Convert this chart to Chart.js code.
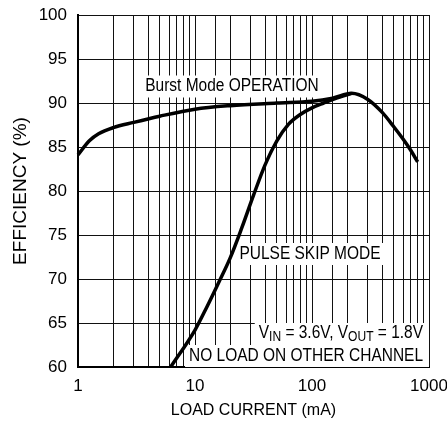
<!DOCTYPE html>
<html>
<head>
<meta charset="utf-8">
<script src="https://cdn.jsdelivr.net/npm/chart.js@4.4.0/dist/chart.umd.min.js"></script>
<style>
  html, body { margin: 0; padding: 0; background: #fff; }
  #wrap { width: 447px; height: 423px; }
</style>
</head>
<body>
<div id="wrap"><canvas id="effChart" width="447" height="423"></canvas></div>
<script>
const FONT = '"Liberation Sans", Arial, Helvetica, sans-serif';
const CONDENSE = 0.86; // the original uses a condensed face

// Burst Mode operation curve (load current mA, efficiency %)
const burstCurrent = [1, 1.25, 1.5, 2, 3, 5, 10, 20, 50, 100, 150, 218, 300, 400, 500, 600, 700, 800];
const burstEff     = [84.1, 85.7, 86.5, 87.2, 87.8, 88.5, 89.3, 89.7, 90.0, 90.2, 90.55, 91.1, 90.4, 88.9, 87.3, 85.9, 84.6, 83.3];

// Pulse skip mode curve
const pulseCurrent = [6.2, 10, 12.6, 15.8, 20, 25.1, 31.6, 39.8, 50.1, 63.1, 79.4, 100, 126, 158, 218];
const pulseEff     = [60, 64.2, 66.8, 69.5, 72.4, 75.8, 79.5, 83.0, 85.7, 87.6, 88.7, 89.45, 90.0, 90.5, 91.1];

const xTickLabels = [1, 10, 100, 1000];
const yTickValues = [60, 65, 70, 75, 80, 85, 90, 95, 100];

function toPoints(xs, ys) {
    return xs.map((x, i) => ({ x: x, y: ys[i] }));
}

// text boxes with white background, drawn over the grid
const labelPlugin = {
    id: 'curveLabels',
    beforeDatasetsDraw(chart) {
        const ctx = chart.ctx;
        const a = chart.chartArea;
        ctx.save();
        ctx.textBaseline = 'middle';

        function box(x1, y1, x2, y2) {
            ctx.fillStyle = '#fff';
            ctx.fillRect(x1, y1, x2 - x1, y2 - y1);
        }
        function width(t, size) {
            ctx.font = size + 'px ' + FONT;
            return ctx.measureText(t).width * CONDENSE;
        }
        function text(t, size, x, y) {
            ctx.save();
            ctx.font = size + 'px ' + FONT;
            ctx.fillStyle = '#000';
            ctx.textAlign = 'left';
            ctx.translate(x, y);
            ctx.scale(CONDENSE, 1);
            ctx.fillText(t, 0, 0);
            ctx.restore();
        }

        // Burst Mode OPERATION
        let t = 'Burst Mode OPERATION';
        let w = width(t, 18);
        let cx = a.left + 154, cy = a.top + 71.5;
        box(cx - w / 2 - 3, cy - 11, cx + w / 2 + 3, cy + 11);
        text(t, 18, cx - w / 2, cy);

        // PULSE SKIP MODE
        t = 'PULSE SKIP MODE';
        w = width(t, 18);
        cx = a.left + 232; cy = a.top + 239;
        box(cx - w / 2 - 3, cy - 11, cx + w / 2 + 3, cy + 11);
        text(t, 18, cx - w / 2, cy);

        // VIN = 3.6V, VOUT = 1.8V  (subscripts)
        const right = a.right - 6;
        const parts = [['V', 0], ['IN', 1], [' = 3.6V, V', 0], ['OUT', 1], [' = 1.8V', 0]];
        let total = 0;
        parts.forEach(p => { total += width(p[0], p[1] ? 14 : 18); });
        cy = a.top + 318;
        box(right - total - 4, cy - 10, a.right, cy + 12);
        let x = right - total;
        parts.forEach(p => {
            const s = p[1] ? 14 : 18;
            text(p[0], s, x, cy + (p[1] ? 4 : 0));
            x += width(p[0], s);
        });

        // NO LOAD ON OTHER CHANNEL
        t = 'NO LOAD ON OTHER CHANNEL';
        w = width(t, 18);
        cy = a.top + 341;
        box(right - w - 4, cy - 11, a.right, a.bottom);
        text(t, 18, right - w, cy);
        ctx.restore();
    }
};

new Chart(document.getElementById('effChart').getContext('2d'), {
    type: 'line',
    data: {
        datasets: [{
            label: 'Burst Mode OPERATION',
            data: toPoints(burstCurrent, burstEff),
            borderColor: '#000',
            borderWidth: 3.5,
            pointRadius: 0,
            cubicInterpolationMode: 'monotone',
            fill: false
        }, {
            label: 'PULSE SKIP MODE',
            data: toPoints(pulseCurrent, pulseEff),
            borderColor: '#000',
            borderWidth: 3.5,
            pointRadius: 0,
            cubicInterpolationMode: 'monotone',
            fill: false
        }]
    },
    options: {
        responsive: false,
        animation: false,
        clip: 2,
        layout: { padding: { top: 15, right: 18, left: 0, bottom: 0 } },
        plugins: {
            legend: { display: false },
            tooltip: { enabled: false }
        },
        scales: {
            x: {
                type: 'logarithmic',
                min: 1,
                max: 1000,
                afterFit: function(scale) {
                    scale.height = 56;
                    scale.paddingLeft = 0;
                    scale.paddingRight = 0;
                },
                grid: { color: '#111', lineWidth: 1, drawTicks: false },
                border: { color: '#000', width: 2 },
                ticks: {
                    autoSkip: false,
                    maxRotation: 0,
                    padding: 9,
                    color: '#000',
                    font: { family: FONT, size: 17 },
                    callback: function(value) {
                        return xTickLabels.includes(value) ? String(value) : '';
                    }
                },
                title: {
                    display: true,
                    text: 'LOAD CURRENT (mA)',
                    color: '#000',
                    font: { family: FONT, size: 16 },
                    padding: { top: 0, bottom: 3 }
                }
            },
            y: {
                min: 60,
                max: 100,
                afterFit: function(scale) {
                    scale.width = 78;
                    scale.paddingTop = 0;
                    scale.paddingBottom = 0;
                },
                afterBuildTicks: function(scale) {
                    scale.ticks = yTickValues.map(v => ({ value: v }));
                },
                grid: { color: '#111', lineWidth: 1, drawTicks: false },
                border: { color: '#000', width: 2 },
                ticks: {
                    padding: 11,
                    color: '#000',
                    font: { family: FONT, size: 17 }
                },
                title: {
                    display: true,
                    text: 'EFFICIENCY (%)',
                    color: '#000',
                    font: { family: FONT, size: 19 },
                    padding: { top: 9, bottom: 0 }
                }
            }
        }
    },
    plugins: [labelPlugin]
});
</script>
</body>
</html>
